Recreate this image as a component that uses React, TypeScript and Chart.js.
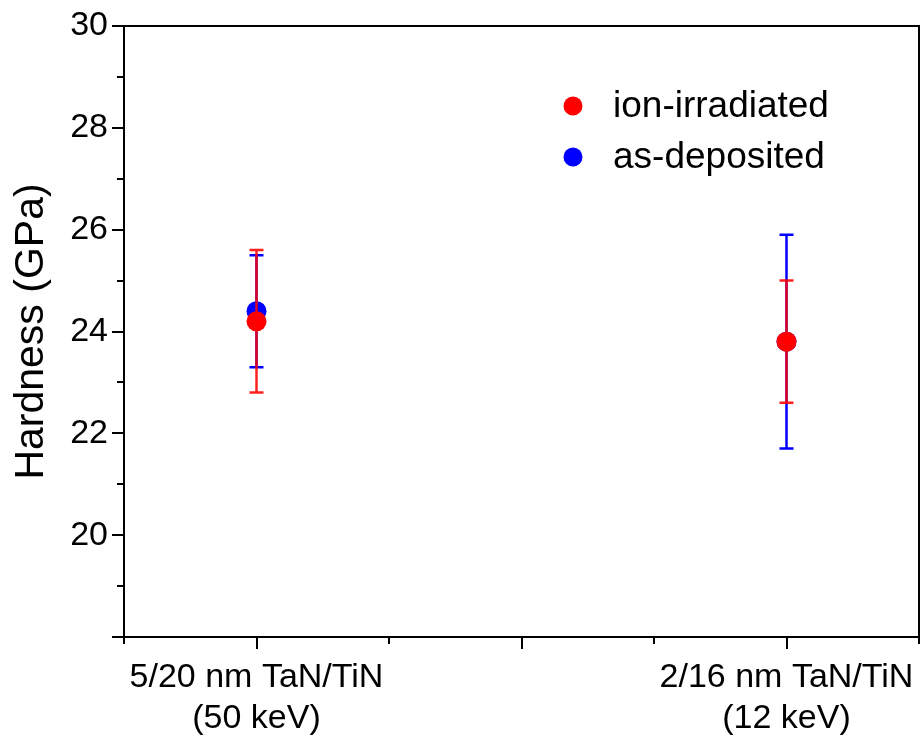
import React, { useEffect, useRef } from "react";
import { Chart, registerables } from "chart.js";

Chart.register(...registerables);

const seriesLabels = ["ion-irradiated", "as-deposited"];
const seriesColors = ["#ff0000", "#0000ff"];
const xPositions = [1, 5];
const categoryLabels: string[][] = [
  ["5/20 nm TaN/TiN", "(50 keV)"],
  ["2/16 nm TaN/TiN", "(12 keV)"],
];
const ionValues = [24.2, 23.8];
const ionLow = [22.8, 22.6];
const ionHigh = [25.6, 25.0];
const asValues = [24.4, 23.8];
const asLow = [23.3, 21.7];
const asHigh = [25.5, 25.9];
const yMin = 18;
const yMax = 30;
const xMin = 0;
const xMax = 6;

const FONT = "'Liberation Sans', Arial, Helvetica, sans-serif";

const errorBarPlugin = {
  id: "errorBars",
  beforeDatasetDraw(chart: any, args: any) {
    const ds = chart.data.datasets[args.index];
    const lows: number[] = ds.errLow;
    const highs: number[] = ds.errHigh;
    if (!lows) return;
    const ctx = chart.ctx;
    const xs = chart.scales.x;
    const ys = chart.scales.y;
    ctx.save();
    ctx.strokeStyle = ds.borderColor;
    ctx.globalAlpha = ds.errAlpha ?? 1;
    ctx.lineWidth = 2.5;
    ds.data.forEach((p: any, i: number) => {
      const px = xs.getPixelForValue(p.x);
      const pl = ys.getPixelForValue(lows[i]);
      const ph = ys.getPixelForValue(highs[i]);
      ctx.beginPath();
      ctx.moveTo(px, pl);
      ctx.lineTo(px, ph);
      ctx.moveTo(px - 7, pl);
      ctx.lineTo(px + 7, pl);
      ctx.moveTo(px - 7, ph);
      ctx.lineTo(px + 7, ph);
      ctx.stroke();
    });
    ctx.restore();
  },
};

const framePlugin = {
  id: "frameTicks",
  afterDraw(chart: any) {
    const { ctx, chartArea } = chart;
    const xs = chart.scales.x;
    const ys = chart.scales.y;
    ctx.save();
    ctx.strokeStyle = "#000";
    ctx.lineWidth = 2;
    ctx.strokeRect(chartArea.left, chartArea.top, chartArea.right - chartArea.left, chartArea.bottom - chartArea.top);
    ctx.beginPath();
    for (let v = yMin; v <= yMax; v += 1) {
      const py = Math.round(ys.getPixelForValue(v));
      const len = v % 2 === 0 ? 12 : 7;
      ctx.moveTo(chartArea.left, py);
      ctx.lineTo(chartArea.left - len, py);
    }
    for (let v = xMin; v <= xMax; v += 1) {
      const px = Math.round(xs.getPixelForValue(v));
      const len = v % 2 === 1 ? 12 : 7;
      ctx.moveTo(px, chartArea.bottom);
      ctx.lineTo(px, chartArea.bottom + len);
    }
    ctx.stroke();
    ctx.restore();
  },
};

const legendPlugin = {
  id: "innerLegend",
  afterDraw(chart: any) {
    const ctx = chart.ctx;
    const x0 = chart.chartArea.left + 449;
    const y0 = chart.chartArea.top + 80;
    ctx.save();
    ctx.font = `37px ${FONT}`;
    ctx.textBaseline = "middle";
    ctx.textAlign = "left";
    seriesLabels.forEach((lab, i) => {
      const y = y0 + i * 51;
      ctx.fillStyle = seriesColors[i];
      ctx.beginPath();
      ctx.arc(x0, y, 9.5, 0, Math.PI * 2);
      ctx.fill();
      ctx.fillStyle = "#000";
      ctx.fillText(lab, x0 + 40, y + 1);
    });
    ctx.restore();
  },
};

const noPad = (s: any) => {
  s.paddingTop = 0;
  s.paddingBottom = 0;
  s.paddingLeft = 0;
  s.paddingRight = 0;
};

export default function App() {
  const ref = useRef<HTMLCanvasElement | null>(null);
  useEffect(() => {
    if (!ref.current) return;
    const chart = new Chart(ref.current, {
      type: "scatter",
      data: {
        datasets: [
          {
            label: seriesLabels[0],
            data: xPositions.map((x, i) => ({ x, y: ionValues[i] })),
            backgroundColor: seriesColors[0],
            borderColor: seriesColors[0],
            pointRadius: 10,
            pointBorderWidth: 0,
            order: 0,
            errLow: ionLow,
            errHigh: ionHigh,
            errAlpha: 0.88,
          } as any,
          {
            label: seriesLabels[1],
            data: xPositions.map((x, i) => ({ x, y: asValues[i] })),
            backgroundColor: seriesColors[1],
            borderColor: seriesColors[1],
            pointRadius: 10,
            pointBorderWidth: 0,
            order: 1,
            errLow: asLow,
            errHigh: asHigh,
          } as any,
        ],
      },
      options: {
        animation: false,
        responsive: false,
        maintainAspectRatio: false,
        devicePixelRatio: 1,
        layout: { autoPadding: false, padding: { top: 26, right: 2, left: 0, bottom: 0 } },
        plugins: { legend: { display: false }, tooltip: { enabled: false } },
        scales: {
          x: {
            type: "linear",
            min: xMin,
            max: xMax,
            grid: { display: false, drawTicks: false },
            border: { display: false },
            afterFit: (s: any) => { s.height = 103; noPad(s); },
            ticks: {
              stepSize: 1,
              autoSkip: false,
              maxRotation: 0,
              padding: 20,
              color: "#000",
              font: { family: FONT, size: 34, lineHeight: 1.2 },
              callback: (v: any) => {
                const idx = xPositions.indexOf(Number(v));
                return idx >= 0 ? categoryLabels[idx] : "";
              },
            },
          },
          y: {
            type: "linear",
            min: yMin,
            max: yMax,
            grid: { display: false, drawTicks: false },
            border: { display: false },
            afterFit: (s: any) => { s.width = 124; noPad(s); },
            title: {
              display: true,
              text: "Hardness (GPa)",
              color: "#000",
              font: { family: FONT, size: 41, lineHeight: 1.2 },
              padding: { top: 7, bottom: 0 },
            },
            ticks: {
              stepSize: 2,
              padding: 16,
              color: "#000",
              font: { family: FONT, size: 34 },
              callback: (v: any) => (Number(v) === yMin ? "" : String(v)),
            },
          },
        },
      },
      plugins: [errorBarPlugin, framePlugin, legendPlugin],
    });
    return () => chart.destroy();
  }, []);
  return (
    <div style={{ position: "absolute", left: 0, top: 0, width: 921, height: 740, background: "#fff", overflow: "hidden" }}>
      <canvas ref={ref} width={921} height={740} style={{ display: "block", width: 921, height: 740 }} />
    </div>
  );
}
